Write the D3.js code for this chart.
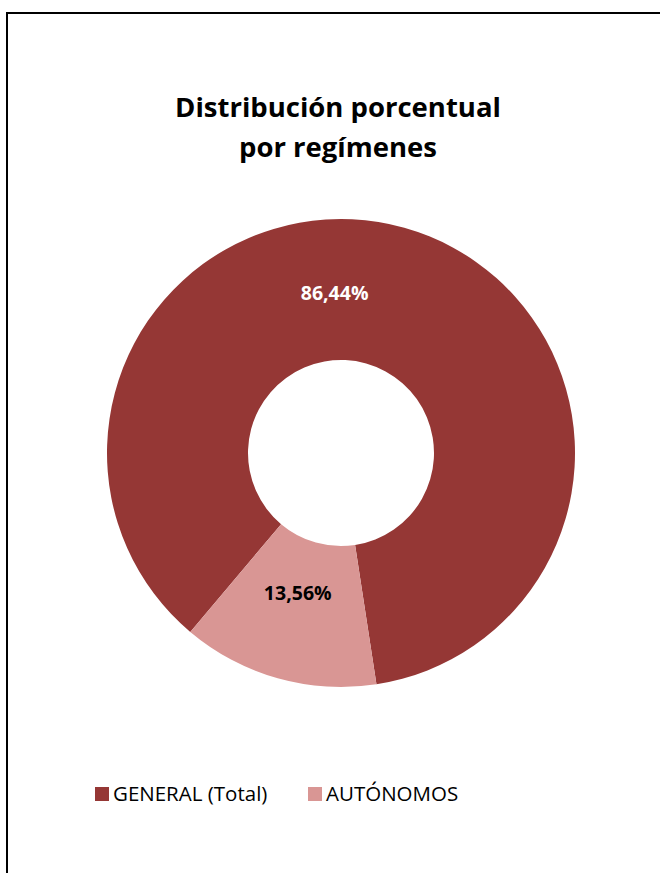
<!DOCTYPE html>
<html>
<head>
<meta charset="utf-8">
<script src="https://cdn.jsdelivr.net/npm/d3@7"></script>
<style>
  body { margin: 0; background: #fff; }
  svg text { font-family: "Open Sans", Lato, sans-serif; }
</style>
</head>
<body>
<div id="chart"></div>
<script>
// data
var categories = ["GENERAL (Total)", "AUTÓNOMOS"];
var shares = [86.44, 13.56];
var colours = ["#953735", "#D99694"];
var labelColours = ["#ffffff", "#000000"];

var width = 660, height = 873;
var cx = 341, cy = 453;
var outerR = 234, innerR = 93;

var svg = d3.select("#chart").append("svg")
    .attr("width", width)
    .attr("height", height);

// chart frame (runs off the right and bottom edge)
svg.append("rect")
    .attr("x", 7)
    .attr("y", 13)
    .attr("width", 700)
    .attr("height", 900)
    .attr("fill", "none")
    .attr("stroke", "#000")
    .attr("stroke-width", 2);

// Title
svg.append("text")
    .attr("x", 338)
    .attr("y", 117)
    .attr("text-anchor", "middle")
    .style("font-size", "27.5px")
    .style("font-weight", "bold")
    .text("Distribución porcentual");
svg.append("text")
    .attr("x", 338)
    .attr("y", 157)
    .attr("text-anchor", "middle")
    .style("font-size", "27.5px")
    .style("font-weight", "bold")
    .text("por regímenes");

var data = categories.map(function(c, i) {
    return { name: c, value: shares[i], colour: colours[i], label: labelColours[i] };
});

// first slice starts at ~220 deg, like the excel original
var pie = d3.pie()
    .sort(null)
    .startAngle(220.1 * Math.PI / 180)
    .endAngle((220.1 + 360) * Math.PI / 180)
    .value(function(d) { return d.value; });

var arc = d3.arc()
    .innerRadius(innerR)
    .outerRadius(outerR);

var g = svg.append("g")
    .attr("transform", "translate(" + cx + "," + cy + ")");

var slices = g.selectAll(".slice")
    .data(pie(data))
    .enter().append("g")
    .attr("class", "slice");

slices.append("path")
    .attr("d", arc)
    .attr("fill", function(d) { return d.data.colour; });

// label angle: big slice label sits near the top, small one at its centroid
var labelArc = d3.arc().innerRadius(160).outerRadius(160);
slices.append("text")
    .attr("transform", function(d, i) {
        var a = i == 0 ? { startAngle: -0.04, endAngle: -0.04 } : { startAngle: d.startAngle, endAngle: d.endAngle };
        var c = labelArc.centroid(a);
        if (i == 1) c[1] -= 14;
        return "translate(" + c[0] + "," + c[1] + ")";
    })
    .attr("text-anchor", "middle")
    .attr("dy", "0.35em")
    .style("font-size", "19.5px")
    .style("font-weight", "bold")
    .style("fill", function(d) { return d.data.label; })
    .text(function(d) { return d3.format(".2f")(d.data.value).replace(".", ",") + "%"; });

// Legend
var legendX = [95, 308];
var legend = svg.selectAll(".legend")
    .data(data)
    .enter().append("g")
    .attr("class", "legend")
    .attr("transform", function(d, i) { return "translate(" + legendX[i] + ",787)"; });

legend.append("rect")
    .attr("width", 14)
    .attr("height", 14)
    .attr("fill", function(d) { return d.colour; });

legend.append("text")
    .attr("x", 18)
    .attr("y", 14)
    .style("font-size", "20.5px")
    .text(function(d) { return d.name; });
</script>
</body>
</html>
